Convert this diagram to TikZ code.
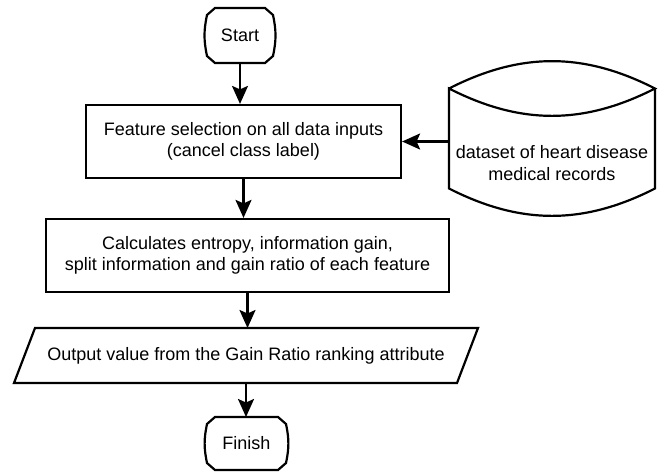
\documentclass[tikz,border=0pt]{standalone}
\usepackage{fontspec}
\setmainfont{Liberation Sans}
\usetikzlibrary{arrows.meta}

\tikzset{
  flow/.style={line width=2.2pt},
  arrow/.style={flow,-{Stealth[length=18pt,width=16pt,inset=3.5pt]}},
  process/.style={draw,flow,rectangle,align=center,minimum height=73pt},
  plain/.style={rectangle,align=center,outer sep=0pt},
  drum/.style={plain,inner sep=0pt,minimum width=206pt,minimum height=100pt},
  every node/.append style={font=\fontsize{18}{21.5}\selectfont}
}

% start/finish outline: cut corners, slightly bulging sides
\newcommand{\termframe}[1]{%
  \draw[flow] ([xshift=8pt]#1.north west) -- ([xshift=-8pt]#1.north east)
    -- ([yshift=-7pt]#1.north east) to[bend left=12] ([yshift=7pt]#1.south east)
    -- ([xshift=-8pt]#1.south east) -- ([xshift=8pt]#1.south west)
    -- ([yshift=7pt]#1.south west) to[bend left=12] ([yshift=-7pt]#1.north west)
    -- cycle;}

% data/output box, slanted by 21pt
\newcommand{\ioframe}[1]{%
  \draw[flow] ([xshift=10.5pt]#1.north west) -- ([xshift=10.5pt]#1.north east)
    -- ([xshift=-10.5pt]#1.south east) -- ([xshift=-10.5pt]#1.south west) -- cycle;}

% database drum round the text node
\newcommand{\drumframe}[1]{%
  \draw[flow] ([yshift=24.5pt]#1.north west) to[bend left=27] ([yshift=24.5pt]#1.north east)
    to[bend left=27] ([yshift=24.5pt]#1.north west) -- ([yshift=24.5pt]#1.south west)
    to[bend right=27] ([yshift=24.5pt]#1.south east) -- ([yshift=24.5pt]#1.north east);}

\begin{document}
\begin{tikzpicture}[x=1pt,y=-1pt]
  \useasboundingbox (0,0) rectangle (663,472);

  \node[plain,minimum width=66pt,minimum height=55pt] (start) at (240,35.5) {Start};
  \termframe{start}

  \node[process,minimum width=315pt] (feat) at (243.5,141.5)
    {Feature selection on all data inputs\\(cancel class label)};
  \node[process,minimum width=403pt] (calc) at (247.5,255.5)
    {Calculates entropy, information gain,\\split information and gain ratio of each feature};
  \node[plain,minimum width=443pt,minimum height=55pt] (out) at (246,355.5)
    {Output value from the Gain Ratio ranking attribute};
  \ioframe{out}

  \node[plain,minimum width=79pt,minimum height=53pt] (finish) at (246.5,443.5) {Finish};
  \termframe{finish}

  \node[drum] (data) at (552,163) {dataset of heart disease\\medical records};
  \drumframe{data}

  \draw[arrow] (start) -- (start |- feat.north);
  \draw[arrow] (data.west |- feat.east) -- (feat.east);
  \draw[arrow] (feat.south) -- (feat.south |- calc.north);
  \draw[arrow] (calc.south) -- (calc.south |- out.north);
  \draw[arrow] (out.south) -- (out.south |- finish.north);
\end{tikzpicture}
\end{document}
